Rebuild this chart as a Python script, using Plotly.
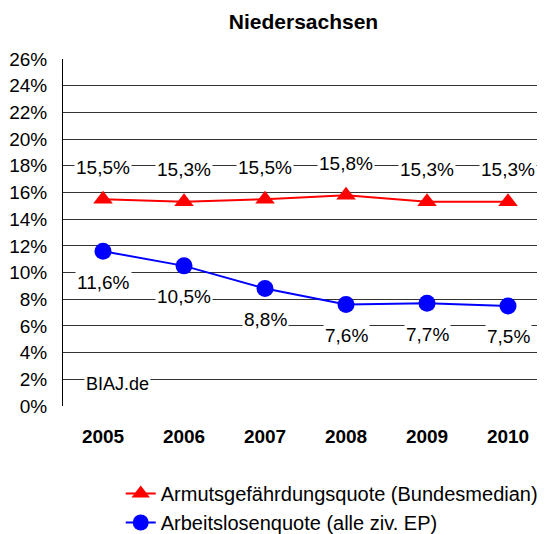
import plotly.graph_objects as go

years = ["2005", "2006", "2007", "2008", "2009", "2010"]
armut = [15.5, 15.3, 15.5, 15.8, 15.3, 15.3]
arbeitslos = [11.6, 10.5, 8.8, 7.6, 7.7, 7.5]
name_armut = "Armutsgefährdungsquote (Bundesmedian)"
name_arbeit = "Arbeitslosenquote (alle ziv. EP)"
y_ticks = list(range(0, 27, 2))

FONT = "Liberation Sans, Arial, sans-serif"

fig = go.Figure()
fig.add_trace(go.Scatter(
    x=years, y=armut, name=name_armut,
    mode="lines+markers",
    line=dict(color="#ff0000", width=2),
    marker=dict(symbol="triangle-up", size=17, color="#ff0000"),
))
fig.add_trace(go.Scatter(
    x=years, y=arbeitslos, name=name_arbeit,
    mode="lines+markers",
    line=dict(color="#0000ff", width=2),
    marker=dict(symbol="circle", size=17, color="#0000ff"),
))

def fmt(v):
    return f"{v:.1f}".replace(".", ",") + "%"

annotations = []
for i, v in enumerate(armut):
    annotations.append(dict(x=i, y=v, text=fmt(v), showarrow=False, yshift=32,
                            bgcolor="white", font=dict(size=19, color="black", family=FONT)))
for i, v in enumerate(arbeitslos):
    annotations.append(dict(x=i, y=v, text=fmt(v), showarrow=False, yshift=-31,
                            bgcolor="white", font=dict(size=19, color="black", family=FONT)))
annotations.append(dict(xref="paper", x=0.044, y=1.65, xanchor="left", text="BIAJ.de",
                        showarrow=False, bgcolor="white",
                        font=dict(size=18, color="black", family=FONT)))

# page body has an 8px default margin, so the figure is drawn 8px smaller
fig.update_layout(
    width=537, height=526,
    margin=dict(l=55, r=1, t=51, b=128, autoexpand=False),
    paper_bgcolor="white", plot_bgcolor="white",
    font=dict(family=FONT, color="black", size=19),
    title=dict(text="<b>Niedersachsen</b>", x=0.5, xanchor="center",
               xref="paper", yref="container", y=1 - 14 / 526, yanchor="middle",
               font=dict(size=21, family=FONT, color="black")),
    showlegend=True,
    legend=dict(orientation="v", x=0.12, xanchor="left", yref="container", y=1 - 466 / 526,
                yanchor="top", font=dict(size=20, family=FONT, color="black"),
                bgcolor="rgba(0,0,0,0)"),
    annotations=annotations,
)
fig.update_xaxes(
    type="category", range=[-0.494, 5.444], showgrid=False, showline=False,
    tickfont=dict(size=19, family=FONT, color="black", weight="bold"),
    ticks="", ticklabelstandoff=17, automargin=False,
)
fig.update_yaxes(
    range=[0, 26], tickvals=y_ticks, ticktext=[f"{t}%" for t in y_ticks],
    showgrid=True, gridcolor="#333333", gridwidth=1,
    showline=True, linecolor="black", linewidth=1, zeroline=False,
    tickfont=dict(size=19, family=FONT, color="black"),
    ticks="", ticklabelstandoff=11, automargin=False,
)

fig.write_html("out.html")
